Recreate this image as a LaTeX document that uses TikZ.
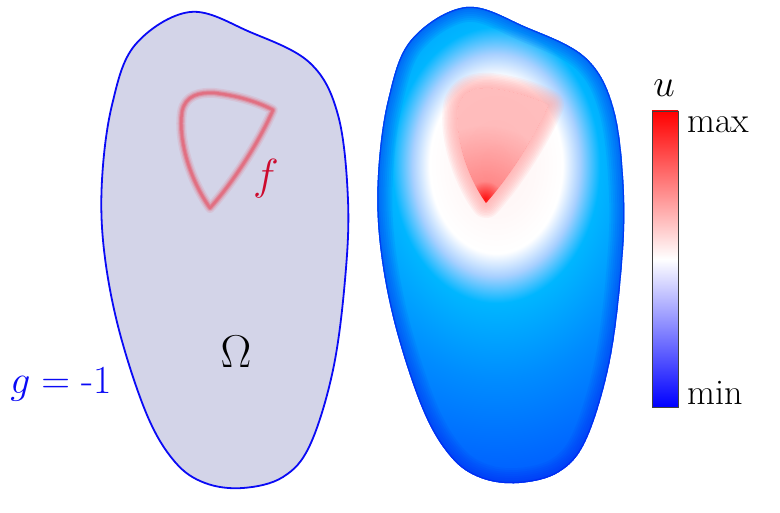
\documentclass[tikz,border=0pt]{standalone}
\usetikzlibrary{fadings}

\definecolor{domainfill}{RGB}{211,212,232}
\definecolor{bndblue}{RGB}{10,10,245}
\definecolor{srcred}{RGB}{232,80,98}
\definecolor{flabel}{RGB}{205,10,45}
\definecolor{upeak}{RGB}{255,165,165}
\definecolor{ucore}{RGB}{255,242,242}
\definecolor{ulightblue}{RGB}{168,208,255}
\definecolor{ucyan}{RGB}{0,182,255}
\definecolor{umid}{RGB}{0,140,255}
\definecolor{udeep}{RGB}{0,85,255}
\definecolor{uedge}{RGB}{0,30,240}

\pgfdeclareradialshading{ufield}{\pgfpointorigin}{%
  color(0bp)=(ucore); color(4bp)=(ucore!50!white); color(6.6bp)=(white);
  color(8.3bp)=(ulightblue); color(10.3bp)=(ucyan); color(16bp)=(umid);
  color(25bp)=(udeep); color(50bp)=(udeep)}

\tikzfading[name=soft glow, inner color=transparent!0, outer color=transparent!100]

\begin{document}
\begin{tikzpicture}[
    x=1pt, y=-1pt,
    blob/.style={
        insert path={plot[smooth cycle, tension=0.6] coordinates {
            (190,12) (250,32) (310,63) (338,115) (348,200) (345,280)
            (333,370) (310,445) (283,477) (243,488) (205,483) (175,462)
            (147,415) (119,330) (104,250) (102,180) (112,105) (135,45)}}
    },
    source/.style={
        insert path={(210,208) .. controls (190,180) and (178,140) .. (182,112)
            .. controls (185,95) and (200,92) .. (215,93)
            .. controls (240,96) and (260,103) .. (273,110)
            .. controls (260,140) and (235,180) .. (210,208) -- cycle}
    },
    lbl/.style={
        inner sep=0pt,
        anchor=base,
        font=\Huge
    },
    cbar/.style={
        rectangle,
        draw=black!75,
        line width=0.8pt,
        inner sep=0pt,
        minimum width=26pt,
        minimum height=296pt,
        top color=red,
        bottom color=blue,
        middle color=white
    }
]

\useasboundingbox (0,0) rectangle (780,513);

% --- Left: domain with source term ---
\path[draw=bndblue, line width=1.8pt, fill=domainfill, blob];
\foreach \w/\o in {10/0.12, 7/0.2, 4.5/0.35, 2.5/0.45}
    \draw[srcred, line width=\w, opacity=\o, line join=round, source];

\node[lbl, scale=1.75, text=flabel] (flab) at (266,190) {$f$};
\node[lbl, scale=1.85] (omega) at (236,367) {$\Omega$};
\node[lbl, anchor=base west, scale=1.6, text=bndblue] (glab) at (10,393) {$g = {}$-1};

% --- Right: solution field ---
\begin{scope}[shift={(276,-5)}]
    \begin{scope}
        \clip[blob];
        \fill[udeep, blob];
        \shade[shading=ufield] (220,170) ellipse [x radius=252, y radius=335];
        % peak region, blurred edge outside
        \fill[upeak, opacity=0.72, source];
        \begin{scope}[even odd rule]
            \clip[source] (0,0) rectangle (400,520);
            \foreach \w in {3,6,...,30}
                \draw[upeak, line width=\w, opacity=0.11, line join=round, source];
        \end{scope}
        \begin{scope}
            \clip[source];
            \fill[red, path fading=soft glow, opacity=0.35] (209,205) circle (75);
            \fill[red, path fading=soft glow, opacity=0.85] (209,204) circle (18);
        \end{scope}
        % darker rim
        \foreach \w in {30,26,...,6}
            \draw[uedge, line width=\w, opacity=0.07, blob];
        \draw[uedge, line width=2.5, opacity=0.6, blob];
    \end{scope}
\end{scope}

% --- Colour bar ---
\node[cbar] (bar) at (665,259) {};
\node[lbl, scale=1.55] (ulab) at (664,97) {$u$};
\node[lbl, anchor=base west, scale=1.45] (maxl) at (687,133) {max};
\node[lbl, anchor=base west, scale=1.45] (minl) at (687,405) {min};

\end{tikzpicture}
\end{document}
